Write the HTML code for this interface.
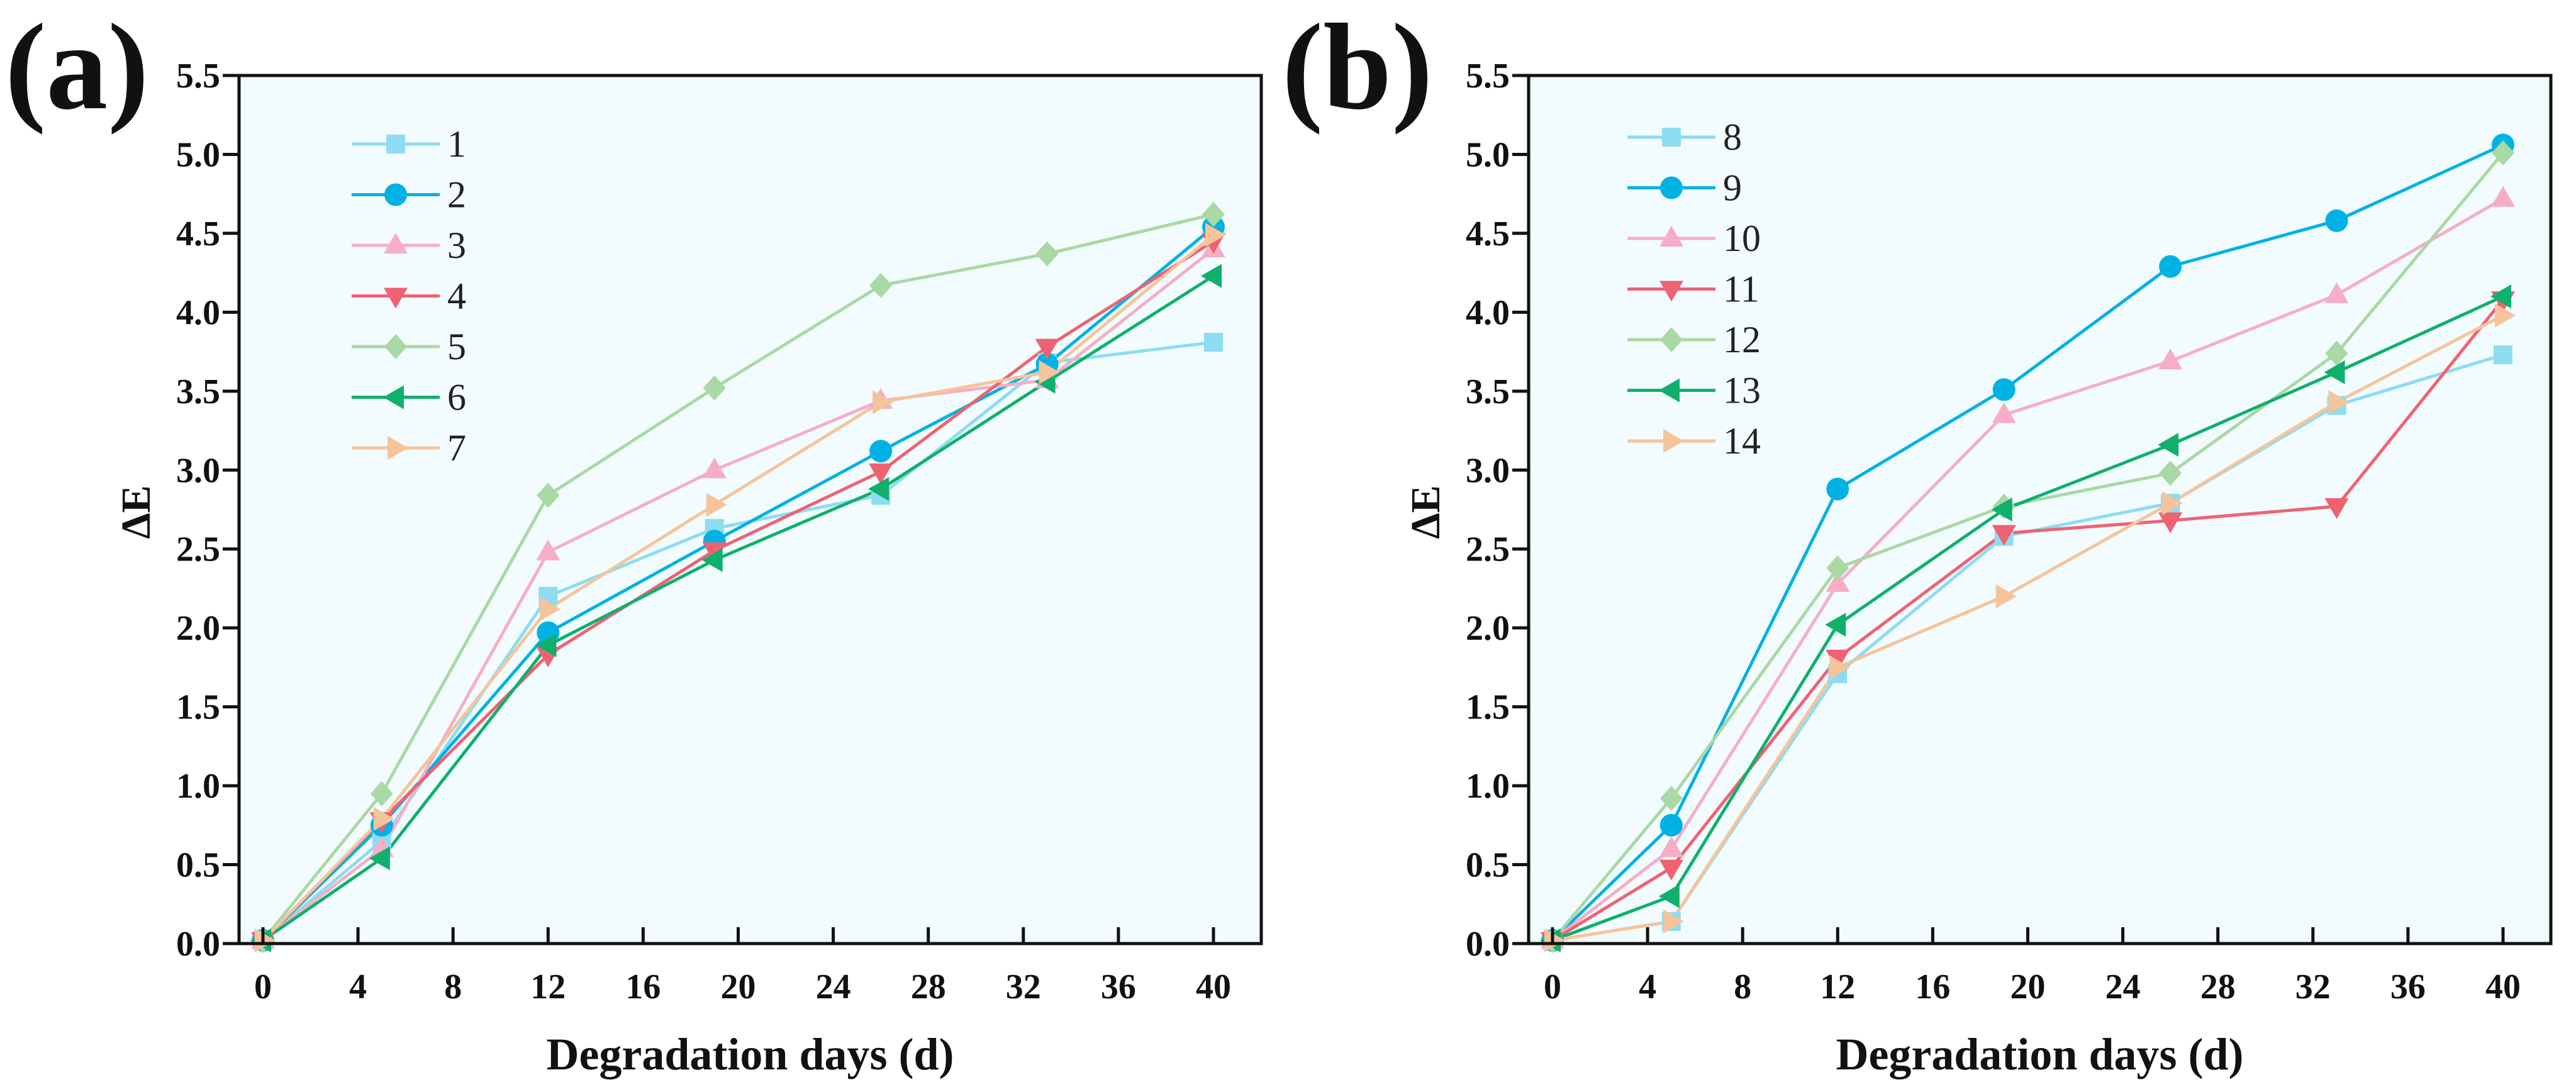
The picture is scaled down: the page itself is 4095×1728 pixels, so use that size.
<!DOCTYPE html>
<html><head><meta charset="utf-8"><style>
html,body{margin:0;padding:0;background:#fff;}
svg{display:block;font-family:"Liberation Serif",serif;}
</style></head><body>
<svg id="chart" width="4095" height="1728" viewBox="0 0 4095 1728" xmlns="http://www.w3.org/2000/svg"></svg>
<script>
const days = [0,5,12,19,26,33,40];
const xTicks = [0,4,8,12,16,20,24,28,32,36,40];
const yTicks = [0.0,0.5,1.0,1.5,2.0,2.5,3.0,3.5,4.0,4.5,5.0,5.5];
const namesA = ["1","2","3","4","5","6","7"];
const namesB = ["8","9","10","11","12","13","14"];
const s1 = [0.02,0.65,2.2,2.63,2.84,3.68,3.81];
const s2 = [0.02,0.75,1.97,2.55,3.12,3.67,4.54];
const s3 = [0.02,0.6,2.48,3.0,3.44,3.57,4.4];
const s4 = [0.02,0.78,1.83,2.49,2.99,3.78,4.45];
const s5 = [0.02,0.95,2.84,3.52,4.17,4.37,4.62];
const s6 = [0.02,0.54,1.89,2.43,2.88,3.56,4.23];
const s7 = [0.02,0.79,2.12,2.78,3.43,3.62,4.49];
const s8 = [0.02,0.14,1.71,2.58,2.79,3.41,3.73];
const s9 = [0.02,0.75,2.88,3.51,4.29,4.58,5.06];
const s10 = [0.02,0.6,2.28,3.35,3.69,4.11,4.72];
const s11 = [0.02,0.48,1.81,2.6,2.68,2.77,4.08];
const s12 = [0.02,0.92,2.38,2.77,2.98,3.74,5.01];
const s13 = [0.02,0.3,2.02,2.75,3.16,3.62,4.1];
const s14 = [0.02,0.14,1.75,2.2,2.79,3.43,3.98];

const colors = ["#8ddcf2","#00b2e3","#f6aec6","#ef6272","#a9d9a4","#0fb06c","#f6c49a"];
const shapes = ["square","circle","up","down","diamond","left","right"];
const NS = "http://www.w3.org/2000/svg";
const svg = document.getElementById("chart");
function el(tag, attrs, parent){const e=document.createElementNS(NS,tag);for(const k in attrs)e.setAttribute(k,attrs[k]);(parent||svg).appendChild(e);return e;}

function marker(g, shape, cx, cy, color){
  const r=18; let e;
  if(shape==="square") e=el("rect",{x:cx-15,y:cy-15,width:30,height:30,fill:color},g);
  else if(shape==="circle") e=el("circle",{cx:cx,cy:cy,r:r,fill:color},g);
  else {
    let p;
    if(shape==="up") p=[[cx,cy-20],[cx+19,cy+13],[cx-19,cy+13]];
    if(shape==="down") p=[[cx,cy+20],[cx+19,cy-13],[cx-19,cy-13]];
    if(shape==="left") p=[[cx-20,cy],[cx+13,cy-19],[cx+13,cy+19]];
    if(shape==="right") p=[[cx+20,cy],[cx-13,cy-19],[cx-13,cy+19]];
    if(shape==="diamond") p=[[cx,cy-20],[cx+18,cy],[cx,cy+20],[cx-18,cy]];
    e=el("polygon",{points:p.map(q=>q.join(",")).join(" "),fill:color},g);
  }
  
  
  return e;
}

function panel(offX, label, names, series, legY0, legX0){
  const L=380+offX, R=2005+offX, T=120, B=1500;
  const x0=418+offX, x40=1929+offX;
  const xs=v=>x0+(x40-x0)*v/40;
  const ys=v=>B-(B-T)*v/5.5;
  const g=el("g",{});
  
  
  const bg=el("rect",{x:L,y:T,width:R-L,height:B-T,fill:"#f2fbfd"},g);
  
  
  // series lines
  series.forEach((s,i)=>{
    const pl=el("polyline",{points:s.map((v,j)=>xs(days[j])+","+ys(v)).join(" "),fill:"none",stroke:colors[i],"stroke-width":5},g);
    
    
  });
  series.forEach((s,i)=>{ s.forEach((v,j)=>marker(g,shapes[i],xs(days[j]),ys(v),colors[i])); });
  // frame
  const fr=el("rect",{x:L,y:T,width:R-L,height:B-T,fill:"none",stroke:"#111","stroke-width":5},g);
  
  
  // x ticks
  xTicks.forEach(t=>{
    const x=xs(t);
    el("line",{x1:x,y1:B,x2:x,y2:B-26,stroke:"#111","stroke-width":5},g);
    const tx=el("text",{x:x,y:1587,"text-anchor":"middle","font-size":56,"font-weight":"bold",fill:"#111"},g);
    tx.textContent=t;
    
    
  });
  yTicks.forEach(t=>{
    const y=ys(t);
    el("line",{x1:L,y1:y,x2:L-26,y2:y,stroke:"#111","stroke-width":5},g);
    const tx=el("text",{x:L-30,y:y+19,"text-anchor":"end","font-size":56,"font-weight":"bold",fill:"#111"},g);
    tx.textContent=t.toFixed(1);
    
    
  });
  const xt=el("text",{x:(L+R)/2,y:1700,"text-anchor":"middle","font-size":72,"font-weight":"bold",fill:"#111"},g);
  xt.textContent="Degradation days (d)";
  
  
  const yt=el("text",{x:0,y:0,"text-anchor":"middle","font-size":66,"font-weight":"bold",fill:"#111",transform:"translate("+(238+offX)+",814) rotate(-90)"},g);
  yt.textContent="ΔE";
  
  
  const pl=el("text",{x:8+offX-(offX?20:0),y:172,"font-size":196,"font-weight":"bold",fill:"#111"},g);
  pl.textContent="("+label+")";
  
  
  // legend
  names.forEach((n,i)=>{
    const y=legY0+i*80.5;
    const lg=el("g",{},g);
    
    
    el("line",{x1:legX0,y1:y,x2:legX0+140,y2:y,stroke:colors[i],"stroke-width":5},lg);
    marker(lg,shapes[i],legX0+70,y,colors[i]);
    const t=el("text",{x:legX0+152,y:y+20,"font-size":60,fill:"#222"},lg);
    t.textContent=n;
  });
}
panel(0,"a",namesA,[s1,s2,s3,s4,s5,s6,s7],229,559);
panel(2050,"b",namesB,[s8,s9,s10,s11,s12,s13,s14],218,2587);
</script>
</body></html>
